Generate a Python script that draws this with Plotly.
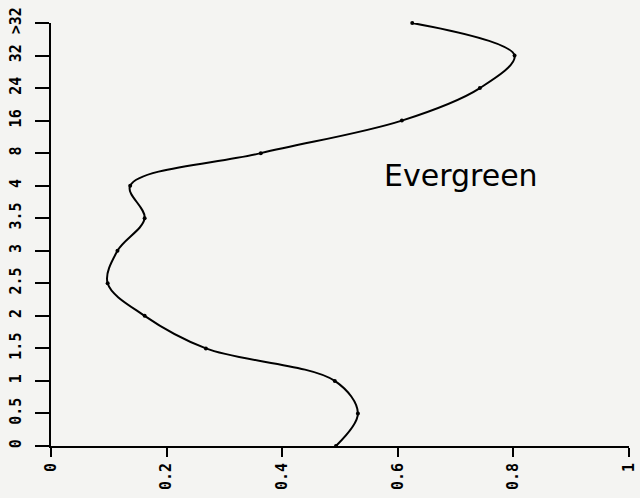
import plotly.graph_objects as go

# Class labels along the vertical axis (bottom to top)
categories = ["0", "0.5", "1", "1.5", "2", "2.5", "3", "3.5", "4",
              "8", "16", "24", "32", ">32"]

# Evergreen proportion for each class
evergreen = [0.493, 0.531, 0.491, 0.268, 0.162, 0.098, 0.115,
             0.162, 0.137, 0.363, 0.607, 0.742, 0.802, 0.625]

x_tick_values = [0, 0.2, 0.4, 0.6, 0.8, 1]
x_tick_labels = ["0", "0.2", "0.4", "0.6", "0.8", "1"]

positions = list(range(len(categories)))

tick_font = dict(family="DejaVu Sans Mono", size=15, color="black", weight="bold")

fig = go.Figure()
fig.add_trace(go.Scatter(
    x=evergreen,
    y=positions,
    mode="lines+markers",
    line=dict(shape="spline", smoothing=1.0, color="black", width=2),
    marker=dict(size=4, color="black"),
    cliponaxis=False,
    showlegend=False,
    hoverinfo="skip",
))

fig.add_annotation(
    x=0.71, y=8.3, xref="x", yref="y",
    text="Evergreen", showarrow=False,
    xanchor="center", yanchor="middle",
    font=dict(family="DejaVu Sans", size=30, color="black"),
)

fig.update_layout(
    width=640, height=498,
    margin=dict(l=51, r=11, t=23, b=52, pad=0, autoexpand=False),
    paper_bgcolor="#f4f4f2",
    plot_bgcolor="#f4f4f2",
    xaxis=dict(
        range=[0, 1], showgrid=False, zeroline=False, automargin=False,
        showline=True, linecolor="black", linewidth=2,
        ticks="outside", ticklen=9, tickwidth=2, tickcolor="black",
        tickvals=x_tick_values, ticktext=x_tick_labels,
        tickangle=-90, tickfont=tick_font, ticklabeloverflow="allow",
    ),
    yaxis=dict(
        range=[0, 13], showgrid=False, zeroline=False, automargin=False,
        showline=True, linecolor="black", linewidth=2,
        ticks="outside", ticklen=14, tickwidth=2, tickcolor="black",
        tickvals=positions, ticktext=categories,
        tickangle=-90, tickfont=tick_font, ticklabelstandoff=8,
        ticklabeloverflow="allow",
    ),
)

fig.write_html("out.html")
